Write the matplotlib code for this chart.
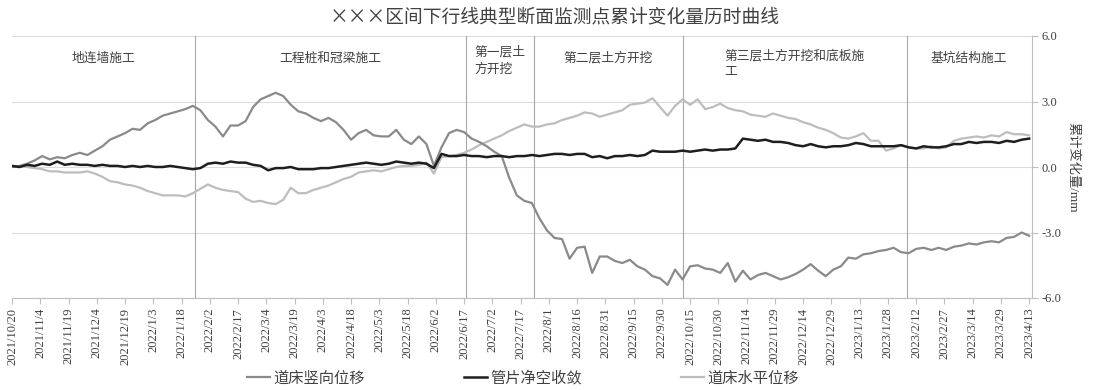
import numpy as np
import pandas as pd
import matplotlib
matplotlib.use("Agg")
import matplotlib.pyplot as plt
from matplotlib.lines import Line2D

plt.rcParams['font.family'] = ['Liberation Serif', 'Noto Sans CJK SC']
plt.rcParams['axes.unicode_minus'] = False

# 监测日期（每4天取一个读数）
dates = pd.date_range('2021-10-20', '2023-04-13', freq='4D')

# 道床竖向位移 (mm)
vertical = [
    0.00, 0.05, 0.15, 0.30, 0.50, 0.35, 0.45, 0.40, 0.55, 0.65,
    0.55, 0.75, 0.95, 1.25, 1.40, 1.55, 1.75, 1.70, 2.00, 2.15,
    2.35, 2.45, 2.55, 2.65, 2.80, 2.60, 2.15, 1.85, 1.40, 1.90,
    1.90, 2.10, 2.75, 3.10, 3.25, 3.40, 3.25, 2.85, 2.55, 2.45,
    2.25, 2.10, 2.25, 2.05, 1.70, 1.25, 1.55, 1.70, 1.45, 1.40,
    1.40, 1.70, 1.25, 1.05, 1.40, 1.05, 0.05, 0.90, 1.55, 1.70,
    1.60, 1.30, 1.15, 0.95, 0.70, 0.50, -0.50, -1.30, -1.55, -1.65,
    -2.35, -2.90, -3.25, -3.30, -4.20, -3.70, -3.65, -4.85, -4.10, -4.10,
    -4.30, -4.40, -4.25, -4.55, -4.70, -5.00, -5.10, -5.40, -4.70, -5.15,
    -4.55, -4.50, -4.65, -4.70, -4.85, -4.40, -5.25, -4.75, -5.15, -4.95,
    -4.85, -5.00, -5.15, -5.05, -4.90, -4.70, -4.45, -4.75, -5.00, -4.70,
    -4.55, -4.15, -4.20, -4.00, -3.95, -3.85, -3.80, -3.70, -3.90, -3.95,
    -3.75, -3.70, -3.80, -3.70, -3.80, -3.65, -3.60, -3.50, -3.55, -3.45,
    -3.40, -3.45, -3.25, -3.20, -3.00, -3.15,
]

# 管片净空收敛 (mm)
convergence = [
    0.05, 0.00, 0.10, 0.05, 0.15, 0.10, 0.25, 0.10, 0.15, 0.10,
    0.10, 0.05, 0.10, 0.05, 0.05, 0.00, 0.05, 0.00, 0.05, 0.00,
    0.00, 0.05, 0.00, -0.05, -0.10, -0.05, 0.15, 0.20, 0.15, 0.25,
    0.20, 0.20, 0.10, 0.05, -0.15, -0.05, -0.05, 0.00, -0.10, -0.10,
    -0.10, -0.05, -0.05, 0.00, 0.05, 0.10, 0.15, 0.20, 0.15, 0.10,
    0.15, 0.25, 0.20, 0.15, 0.20, 0.15, -0.05, 0.60, 0.50, 0.50,
    0.55, 0.50, 0.50, 0.45, 0.50, 0.50, 0.45, 0.50, 0.50, 0.55,
    0.50, 0.55, 0.60, 0.60, 0.55, 0.60, 0.60, 0.45, 0.50, 0.40,
    0.50, 0.50, 0.55, 0.50, 0.55, 0.75, 0.70, 0.70, 0.70, 0.75,
    0.70, 0.75, 0.80, 0.75, 0.80, 0.80, 0.85, 1.30, 1.25, 1.20,
    1.25, 1.15, 1.15, 1.10, 1.00, 0.95, 1.05, 0.95, 0.90, 0.95,
    0.95, 1.00, 1.10, 1.05, 0.95, 0.95, 0.95, 0.95, 1.00, 0.90,
    0.85, 0.95, 0.90, 0.90, 0.95, 1.05, 1.05, 1.15, 1.10, 1.15,
    1.15, 1.10, 1.20, 1.15, 1.25, 1.30,
]

# 道床水平位移 (mm)
horizontal = [
    0.00, 0.05, 0.00, -0.05, -0.10, -0.20, -0.20, -0.25, -0.25, -0.25,
    -0.20, -0.30, -0.45, -0.65, -0.70, -0.80, -0.85, -0.95, -1.10, -1.20,
    -1.30, -1.30, -1.30, -1.35, -1.20, -1.00, -0.80, -0.95, -1.05, -1.10,
    -1.15, -1.45, -1.60, -1.55, -1.65, -1.70, -1.50, -0.95, -1.20, -1.20,
    -1.05, -0.95, -0.85, -0.70, -0.55, -0.45, -0.25, -0.20, -0.15, -0.20,
    -0.10, 0.00, 0.05, 0.05, 0.10, 0.20, -0.30, 0.45, 0.50, 0.55,
    0.65, 0.80, 1.00, 1.15, 1.30, 1.45, 1.65, 1.80, 1.95, 1.85,
    1.85, 1.95, 2.00, 2.15, 2.25, 2.35, 2.50, 2.45, 2.30, 2.40,
    2.50, 2.60, 2.85, 2.90, 2.95, 3.15, 2.75, 2.35, 2.80, 3.10,
    2.85, 3.10, 2.65, 2.75, 2.90, 2.70, 2.60, 2.55, 2.40, 2.35,
    2.30, 2.45, 2.35, 2.25, 2.20, 2.05, 1.95, 1.80, 1.70, 1.55,
    1.35, 1.30, 1.40, 1.55, 1.20, 1.20, 0.75, 0.85, 1.00, 0.90,
    0.85, 0.85, 0.95, 0.85, 0.90, 1.20, 1.30, 1.35, 1.40, 1.35,
    1.45, 1.40, 1.60, 1.50, 1.50, 1.45,
]

# 施工阶段分界日期与名称
phase_bounds = ['2021-10-20', '2022-01-25', '2022-06-18', '2022-07-24',
                '2022-10-11', '2023-02-07', '2023-04-14']
phase_names = ['地连墙施工', '工程桩和冠梁施工', '第一层土\n方开挖',
               '第二层土方开挖', '第三层土方开挖和底板施\n工', '基坑结构施工']

tick_dates = pd.date_range('2021-10-20', '2023-04-13', freq='15D')
yticks = [-6.0, -3.0, 0.0, 3.0, 6.0]

text_color = '#404040'
axis_color = '#bfbfbf'

fig = plt.figure(figsize=(10.95, 3.9), dpi=100)
ax = fig.add_axes([12 / 1095, 1 - 298 / 390, 1020 / 1095, 262 / 390])

ax.plot(dates, horizontal, color='#bdbdbd', lw=1.6, zorder=3)
ax.plot(dates, vertical, color='#8a8a8a', lw=1.6, zorder=4)
ax.plot(dates, convergence, color='#1e1e1e', lw=1.8, zorder=5)

# 施工阶段分界线及阶段名称
bounds = pd.to_datetime(phase_bounds)
for b in bounds[1:-1]:
    ax.axvline(b, color='#a6a6a6', lw=0.8, zorder=2)

label_y = [0.915, 0.915, 0.905, 0.915, 0.948, 0.915]
label_va = ['center', 'center', 'center', 'center', 'top', 'center']
for i, name in enumerate(phase_names):
    mid = bounds[i] + (bounds[i + 1] - bounds[i]) / 2
    ax.text(mid, label_y[i], name, transform=ax.get_xaxis_transform(),
            ha='center', va=label_va[i], multialignment='left',
            fontsize=9.2, color=text_color, linespacing=1.45)

ax.set_xlim(pd.Timestamp('2021-10-20'), pd.Timestamp('2023-04-14 12:00'))
ax.set_ylim(-6, 6)
ax.set_xticks(tick_dates)
ax.set_xticklabels([f'{d.year}/{d.month}/{d.day}' for d in tick_dates],
                   rotation=90, fontsize=9, color=text_color)
ax.yaxis.tick_right()
ax.set_yticks(yticks)
ax.set_yticklabels([f'{v:.1f}' for v in yticks], fontsize=9, color=text_color)
ax.tick_params(axis='both', direction='out', length=4, color=axis_color, pad=3)

ax.grid(axis='y', color='#dcdcdc', lw=0.8)
ax.set_axisbelow(True)
for side in ['top', 'left']:
    ax.spines[side].set_visible(False)
for side in ['bottom', 'right']:
    ax.spines[side].set_color(axis_color)
    ax.spines[side].set_linewidth(0.8)

fig.text(1073 / 1095, 1 - 167 / 390, '累计变化量/mm', rotation=270,
         ha='center', va='center', fontsize=9.5, color=text_color)

fig.text(555 / 1095, 1 - 17 / 390, '×××区间下行线典型断面监测点累计变化量历时曲线',
         ha='center', va='center', fontsize=13.5, color=text_color,
         family=['Noto Sans CJK SC', 'DejaVu Sans'])

handles = [
    Line2D([], [], color='#8a8a8a', lw=1.6),
    Line2D([], [], color='#1e1e1e', lw=1.8),
    Line2D([], [], color='#bdbdbd', lw=1.6),
]
fig.legend(handles, ['道床竖向位移', '管片净空收敛', '道床水平位移'],
           loc='center', bbox_to_anchor=(523 / 1095, 1 - 378 / 390), ncol=3,
           frameon=False, fontsize=11, handlelength=1.5, handletextpad=0.2,
           columnspacing=6.5, labelcolor=text_color)

fig.savefig('out.png', dpi=100)
